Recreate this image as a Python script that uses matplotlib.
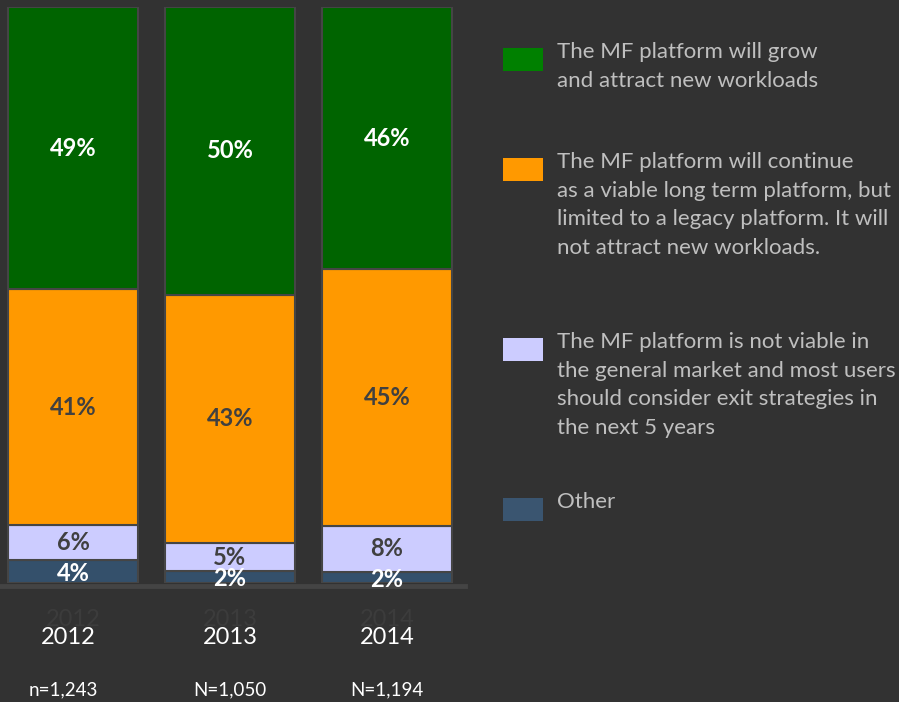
import matplotlib
matplotlib.use("Agg")
import matplotlib.pyplot as plt
import numpy as np
from matplotlib.patches import Rectangle

plt.rcParams['font.family'] = ['Lato', 'DejaVu Sans']

years = ["2012", "2013", "2014"]
sample_sizes = ["n=1,243", "N=1,050", "N=1,194"]
other = [4, 2, 2]
not_viable = [6, 5, 8]
legacy = [41, 43, 45]
grow = [49, 50, 46]

series_names = [
    "Other",
    "The MF platform is not viable in\nthe general market and most users\nshould consider exit strategies in\nthe next 5 years",
    "The MF platform will continue\nas a viable long term platform, but\nlimited to a legacy platform. It will\nnot attract new workloads.",
    "The MF platform will grow\nand attract new workloads",
]

BG = "#323232"
bar_colors = ["#34506b", "#ccccff", "#ff9900", "#006400"]
legend_colors = ["#3a5570", "#ccccff", "#ff9900", "#008000"]
label_colors = ["white", "#404040", "#404040", "white"]

W, H = 899, 702
fig = plt.figure(figsize=(W / 100, H / 100), dpi=100, facecolor=BG)
ax = fig.add_axes([0, (H - 583) / H, 465 / W, 576 / H], facecolor=BG)

data = np.array([other, not_viable, legacy, grow], dtype=float)
totals = data.sum(axis=0)
share = data / totals * 100
x = np.arange(len(years))
bottom = np.zeros(len(years))
for i in range(len(data)):
    ax.bar(x, share[i], width=0.828, bottom=bottom, color=bar_colors[i],
           edgecolor="#454545", linewidth=1.5, zorder=2)
    for j in range(len(years)):
        yc = bottom[j] + share[i][j] / 2
        if i == 0:
            yc = bottom[j] + share[i][j] / 2 - 0.3
        ax.text(x[j], yc, f"{int(data[i][j])}%", ha="center", va="center",
                color=label_colors[i], fontsize=17, fontweight="bold", zorder=5)
    bottom += share[i]

ax.set_xlim(-0.465, 2.497)
ax.set_ylim(0, 100)
ax.set_yticks([])
for s in ["top", "left", "right"]:
    ax.spines[s].set_visible(False)
ax.spines["bottom"].set_color("#444444")
ax.spines["bottom"].set_linewidth(3.5)
ax.spines["bottom"].set_position(("outward", 2))
ax.spines["bottom"].set_zorder(3)
ax.set_xticks(x)
ax.set_xticklabels(years, color="#3c3c3c", fontsize=17)
ax.tick_params(axis="x", length=0, pad=17)

tr = ax.get_xaxis_transform()
label_offsets = [-0.06, 0, 0]
for j in range(len(years)):
    ax.text(x[j] - 0.03 * (j == 0), -0.094, years[j], transform=tr, ha="center", va="center",
            color="white", fontsize=17)
    ax.text(x[j] + label_offsets[j], -0.186, sample_sizes[j], transform=tr, ha="center",
            va="center", color="white", fontsize=13.5)

# legend
patch_tops = [498, 338, 158, 48]
for i in range(len(series_names)):
    top = patch_tops[i]
    fig.patches.append(Rectangle((503 / W, (H - top - 23) / H), 40 / W, 23 / H,
                                 transform=fig.transFigure, facecolor=legend_colors[i],
                                 edgecolor="none"))
    fig.text(557 / W, (H - top + 6) / H, series_names[i], ha="left", va="top",
             color="#bfbfbf", fontsize=16, linespacing=1.54)

fig.savefig("out.png", dpi=100, facecolor=BG)
